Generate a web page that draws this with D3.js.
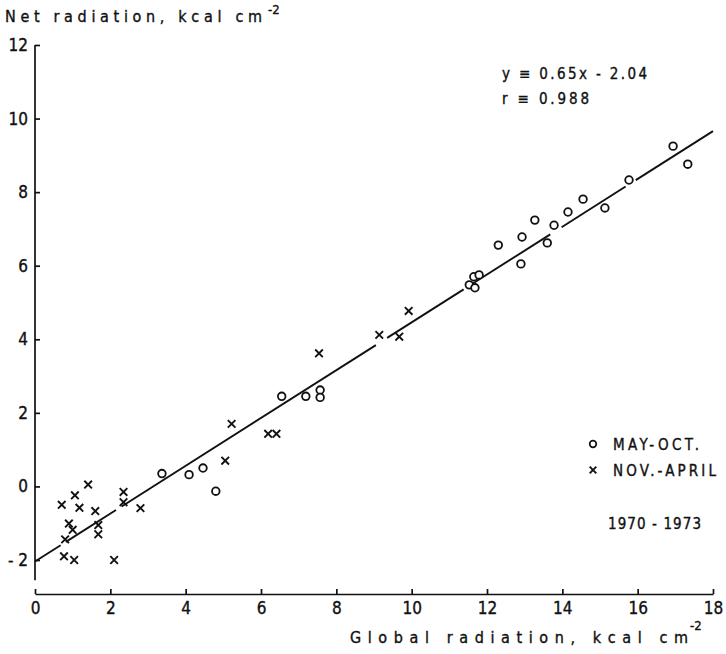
<!DOCTYPE html>
<html>
<head>
<meta charset="utf-8">
<script src="https://cdn.jsdelivr.net/npm/d3@7"></script>
<style>
  body { margin: 0; background: #fff; }
  text { font-family: "DejaVu Sans Condensed", "DejaVu Sans", sans-serif; fill: #111; stroke: #111; stroke-width: 0.35; }
  .axis path, .axis line { stroke: #111; stroke-width: 1.7; }
  .axis text { font-size: 17px; font-family: "DejaVu Sans Condensed", "DejaVu Sans", sans-serif; }
</style>
</head>
<body>
<div class="chartCont"></div>
<script>
const w = 726;
const h = 654;

// May - October points (global, net)
const mayOct = [
  [3.37, 0.35], [4.09, 0.32], [4.46, 0.5], [4.8, -0.13],
  [6.55, 2.45], [7.19, 2.45], [7.57, 2.62], [7.57, 2.42],
  [11.53, 5.48], [11.68, 5.4], [11.65, 5.7], [11.79, 5.75],
  [12.3, 6.56], [12.9, 6.05], [12.93, 6.78], [13.27, 7.24],
  [13.6, 6.62], [13.78, 7.1], [14.15, 7.46], [14.55, 7.81],
  [15.13, 7.57], [15.77, 8.33], [16.94, 9.25], [17.33, 8.76]
];

// November - April points
const novApr = [
  [0.71, -0.5], [1.06, -0.24], [1.18, -0.58], [1.41, 0.05],
  [1.6, -0.67], [0.9, -1.01], [1.0, -1.18], [0.8, -1.44],
  [1.68, -1.05], [1.68, -1.3], [0.77, -1.9], [1.04, -2.0],
  [2.1, -2.0], [2.35, -0.15], [2.35, -0.43], [2.8, -0.59],
  [5.05, 0.7], [5.22, 1.7], [6.19, 1.43], [6.41, 1.43],
  [7.54, 3.62], [9.14, 4.12], [9.67, 4.07], [9.92, 4.77]
];

const slope = 0.65;
const intercept = -2.04;
// breaks in the drawn regression line (x ranges)
const lineGaps = [[0.68, 0.82], [2.15, 2.3], [9.05, 9.35], [11.38, 11.55], [13.68, 13.98], [15.68, 15.95]];

const xTicks = [0, 2, 4, 6, 8, 10, 12, 14, 16, 18];
const yTicks = [-2, 0, 2, 4, 6, 8, 10, 12];

const svg = d3.select(".chartCont").append("svg")
    .attr("width", w)
    .attr("height", h);

const x = d3.scaleLinear().domain([0, 18]).range([35, 713]);
const y = d3.scaleLinear().domain([-2, 12]).range([560, 45]);

// y axis
const yAxis = d3.axisLeft(y)
    .tickValues(yTicks)
    .tickSizeInner(-5)
    .tickSizeOuter(0)
    .tickPadding(7)
    .tickFormat(d => d < 0 ? "- " + Math.abs(d) : d);

const gY = svg.append("g")
    .attr("class", "axis")
    .attr("transform", "translate(35,0)")
    .call(yAxis);
gY.select(".domain").remove();
gY.append("line")
    .attr("y1", y(12)).attr("y2", y(-2.55));
gY.selectAll(".tick text").attr("x", -7);

// x axis, set below the y axis end
const xAxis = d3.axisBottom(x)
    .tickValues(xTicks)
    .tickSizeInner(-5)
    .tickSizeOuter(0)
    .tickPadding(8);

svg.append("g")
    .attr("class", "axis")
    .attr("transform", "translate(0,594)")
    .call(xAxis);

svg.selectAll(".axis text").attr("fill", "#111");

// axis titles
svg.append("text")
    .attr("x", 5).attr("y", 22)
    .style("font-size", "16px")
    .attr("textLength", 257)
    .attr("lengthAdjust", "spacing")
    .text("Net radiation, kcal  cm");
svg.append("text")
    .attr("x", 268).attr("y", 14)
    .style("font-size", "13px")
    .text("-2");

svg.append("text")
    .attr("x", 350).attr("y", 643)
    .style("font-size", "16px")
    .attr("textLength", 338)
    .attr("lengthAdjust", "spacing")
    .text("Global  radiation,  kcal cm");
svg.append("text")
    .attr("x", 690).attr("y", 630)
    .style("font-size", "13px")
    .text("-2");

// regression line with breaks
const segs = [];
let start = 0;
lineGaps.forEach(g => { segs.push([start, g[0]]); start = g[1]; });
segs.push([start, 18]);

svg.selectAll(".reg")
    .data(segs)
    .enter()
    .append("line")
    .attr("class", "reg")
    .attr("x1", d => x(d[0]))
    .attr("y1", d => y(slope * d[0] + intercept))
    .attr("x2", d => x(d[1]))
    .attr("y2", d => y(slope * d[1] + intercept))
    .attr("stroke", "#111")
    .attr("stroke-width", 1.9);

// circles
svg.selectAll(".mo")
    .data(mayOct)
    .enter()
    .append("circle")
    .attr("class", "mo")
    .attr("cx", d => x(d[0]))
    .attr("cy", d => y(d[1]))
    .attr("r", 3.8)
    .attr("fill", "#fff")
    .attr("stroke", "#111")
    .attr("stroke-width", 1.8);

// crosses
const cross = (g, s) => {
  g.append("path")
    .attr("d", `M${-s},${-s}L${s},${s}M${-s},${s}L${s},${-s}`)
    .attr("stroke", "#111")
    .attr("stroke-width", 1.9)
    .attr("fill", "none");
};

svg.selectAll(".na")
    .data(novApr)
    .enter()
    .append("g")
    .attr("class", "na")
    .attr("transform", d => `translate(${x(d[0])},${y(d[1])})`)
    .each(function() { cross(d3.select(this), 3.8); });

// equation
svg.append("text")
    .attr("x", 502).attr("y", 79)
    .style("font-size", "15px")
    .attr("textLength", 145)
    .attr("lengthAdjust", "spacing")
    .text("y \u2261 0.65x - 2.04");
svg.append("text")
    .attr("x", 502).attr("y", 104)
    .style("font-size", "15px")
    .attr("textLength", 87)
    .attr("lengthAdjust", "spacing")
    .text("r \u2261 0.988");

// legend
svg.append("circle")
    .attr("cx", 593).attr("cy", 444).attr("r", 3.3)
    .attr("fill", "#fff").attr("stroke", "#111").attr("stroke-width", 1.7);
svg.append("text")
    .attr("x", 613).attr("y", 450)
    .style("font-size", "15px")
    .attr("textLength", 86)
    .attr("lengthAdjust", "spacing")
    .text("MAY-OCT.");

cross(svg.append("g").attr("transform", "translate(593,470)"), 3.3);
svg.append("text")
    .attr("x", 613).attr("y", 476)
    .style("font-size", "15px")
    .attr("textLength", 103)
    .attr("lengthAdjust", "spacing")
    .text("NOV.-APRIL");

svg.append("text")
    .attr("x", 608).attr("y", 529)
    .style("font-size", "15px")
    .attr("textLength", 93)
    .attr("lengthAdjust", "spacing")
    .text("1970 - 1973");
</script>
</body>
</html>
